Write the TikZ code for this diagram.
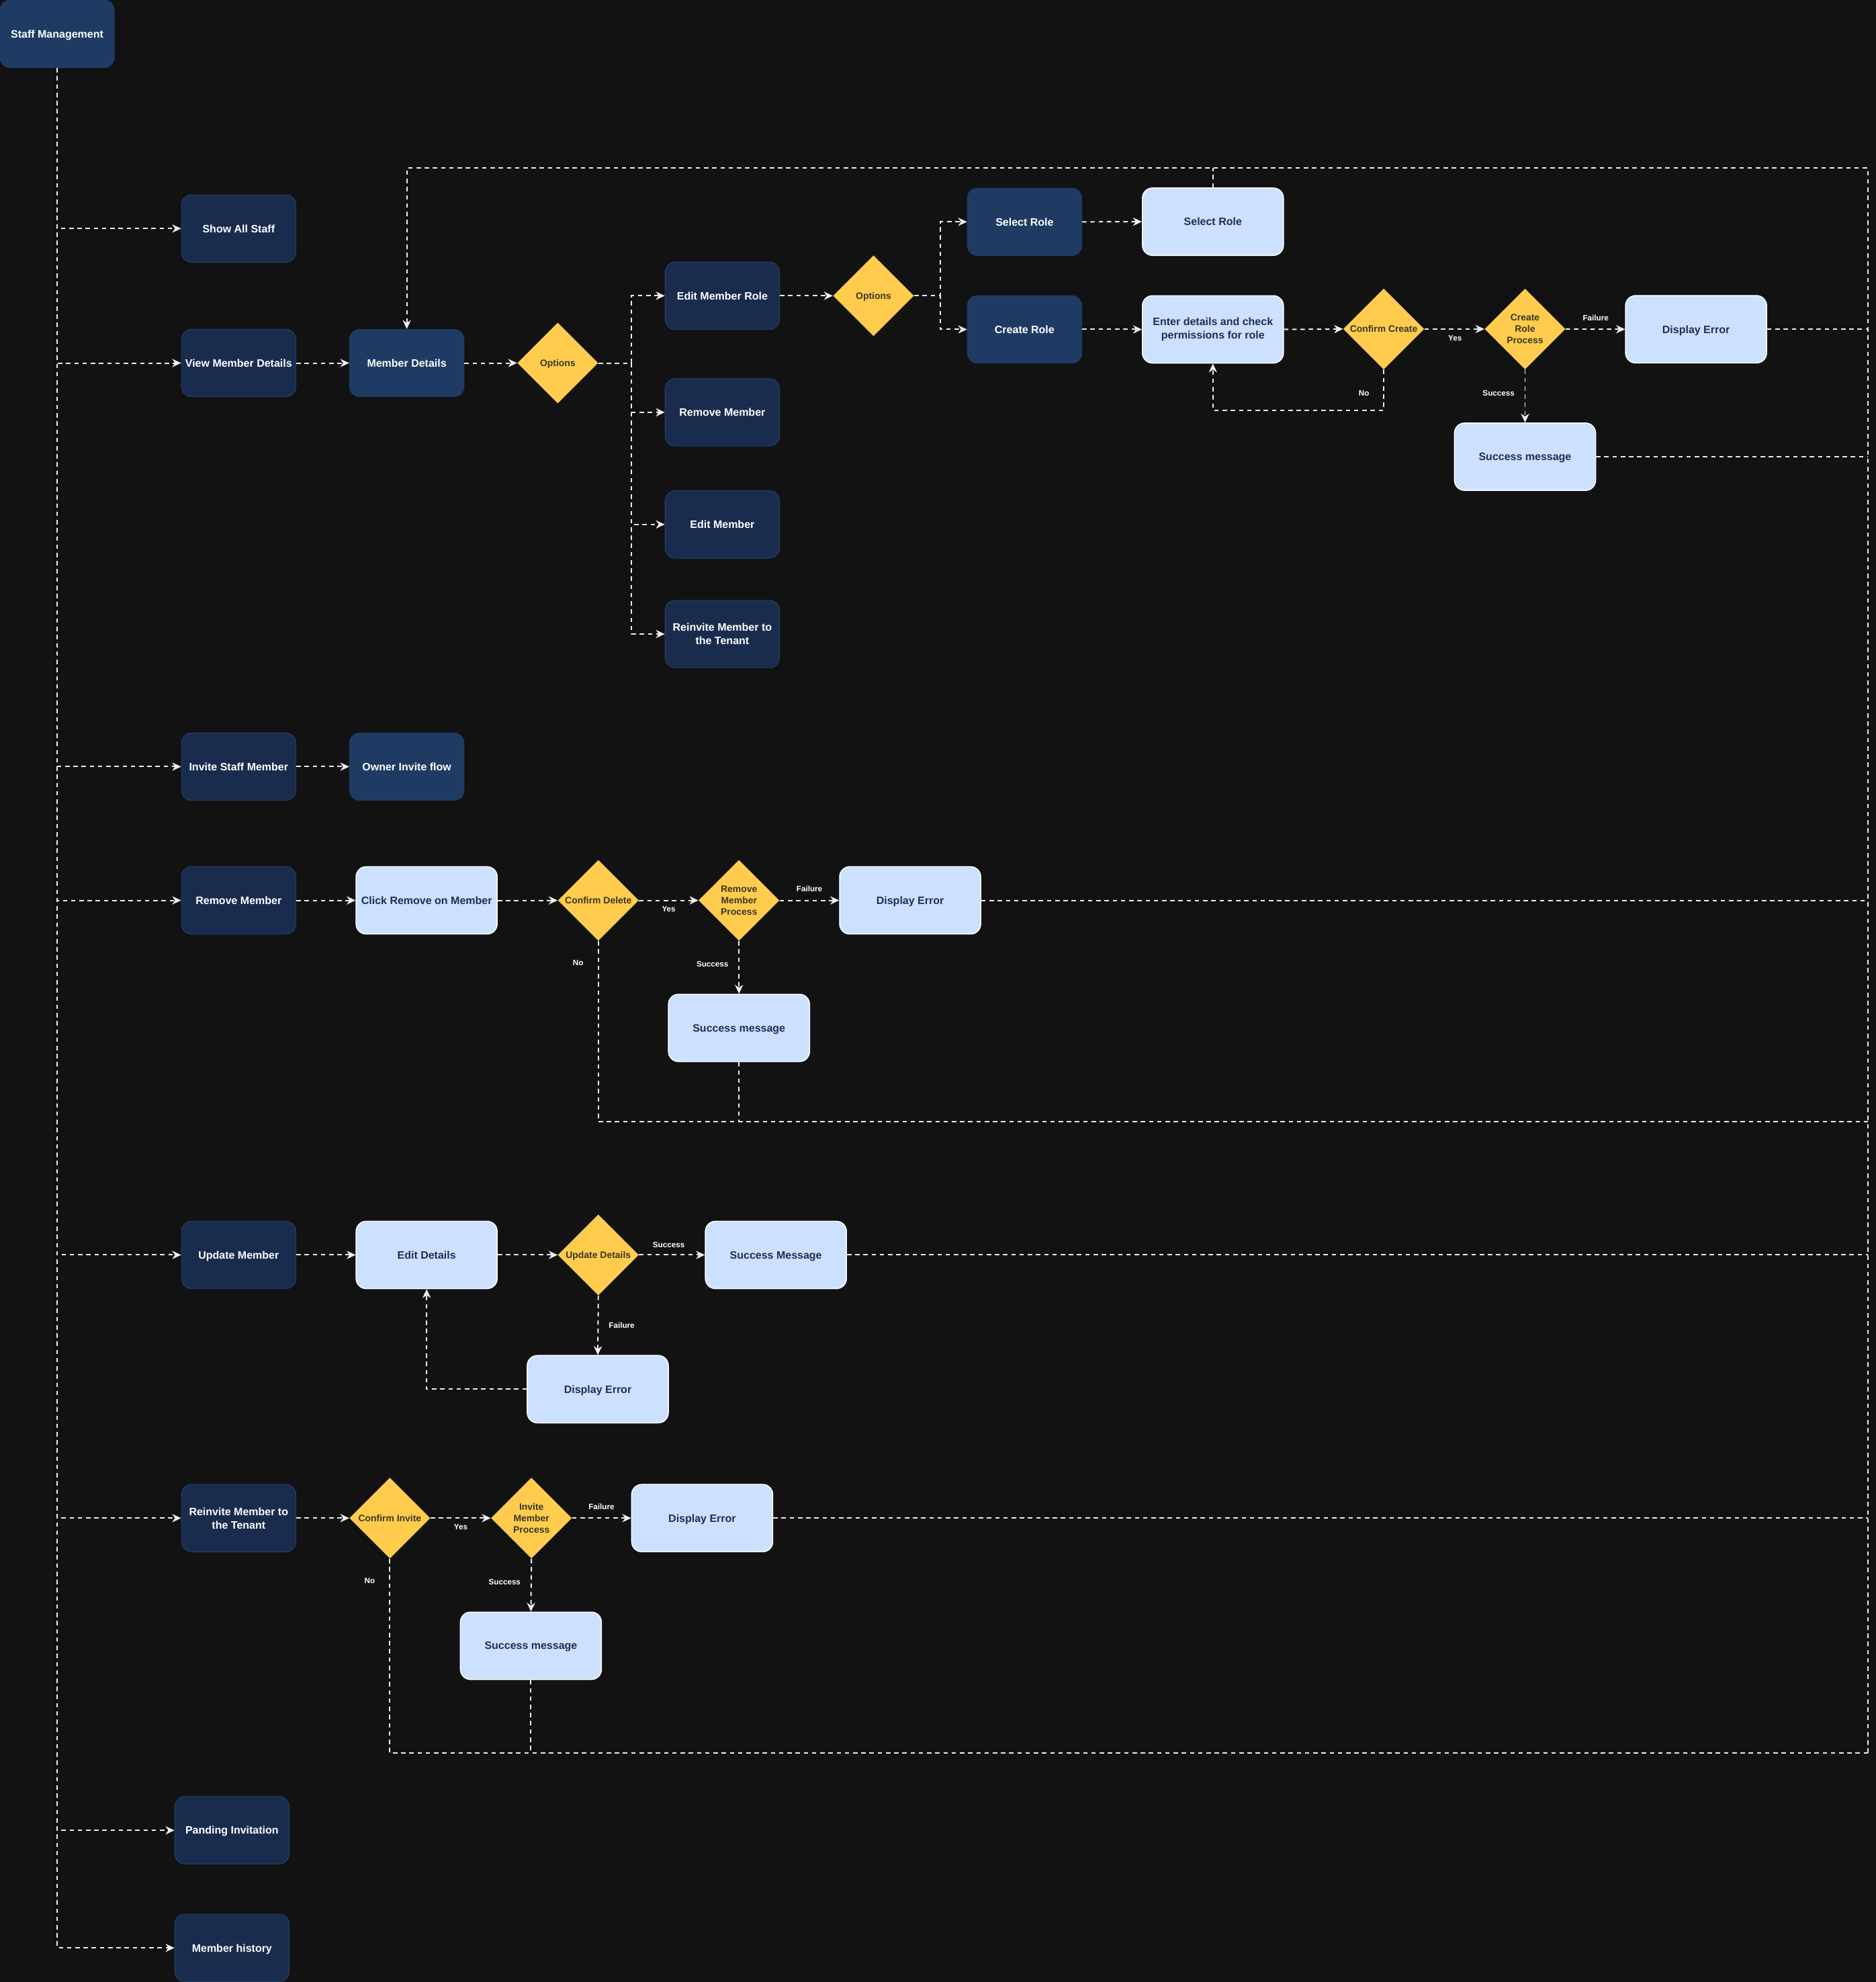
\documentclass[tikz,border=0pt]{standalone}
\usepackage{fontspec}
\setmainfont{Liberation Sans}
\usetikzlibrary{arrows.meta,shapes.geometric,calc}
\definecolor{bgc}{HTML}{121212}
\definecolor{darkfill}{HTML}{1A2C4E}
\definecolor{darkline}{HTML}{213D68}
\definecolor{midfill}{HTML}{1F3B63}
\definecolor{lightfill}{HTML}{CCE0FF}
\definecolor{lighttext}{HTML}{1E2F4F}
\definecolor{yel}{HTML}{FFCC4D}
\definecolor{dtext}{HTML}{3A3522}
\definecolor{lc}{HTML}{EDEDED}
\begin{document}
\begin{tikzpicture}[x=1pt,y=-1pt,
  boxtxt/.style={font=\fontsize{8.5}{10.6}\selectfont\bfseries, align=center, inner sep=0pt, text depth=0pt},
  multi/.style={text depth=},
  darkbox/.style={boxtxt, rectangle, rounded corners=8pt, fill=darkfill, draw=darkline, line width=0.6pt, text=white, minimum width=90.5pt, minimum height=53.3pt},
  midbox/.style={darkbox, fill=midfill, draw=midfill},
  lightbox/.style={boxtxt, rectangle, rounded corners=8pt, fill=lightfill, draw=white, line width=0.8pt, text=lighttext, minimum width=111.6pt, minimum height=53.3pt},
  dia/.style={diamond, fill=yel, draw=none, minimum width=64pt, minimum height=64pt, inner sep=0pt, aspect=1},
  dlab/.style={font=\fontsize{7.4}{9}\selectfont\bfseries, text=dtext, align=center, inner sep=0pt, text depth=0pt},
  lbl/.style={font=\fontsize{6.2}{7.5}\selectfont\bfseries, text=white, inner sep=0pt, text depth=0pt},
  flow/.style={draw=lc, line width=1.05pt, dash pattern=on 3.5pt off 3pt},
  arr/.style={flow, -{Stealth[length=7pt,width=6.5pt,inset=2.2pt]}}
]
\fill[bgc] (0,0) rectangle (1484,1568);
\useasboundingbox (0,0) rectangle (1484,1568);

% ---- left column ----
\node[midbox, minimum width=90.3pt, minimum height=53.5pt] (sm) at (45.2,26.75) {Staff Management};
\node[darkbox] (show) at (188.8,180.8) {Show All Staff};
\node[darkbox] (view) at (188.8,287.2) {View Member Details};
\node[midbox] (md) at (321.8,287.2) {Member Details};
\node[dia, label={[dlab]center:Options}] (opt1) at (441.2,287.2) {};

\node[darkbox] (emr) at (571.4,234) {Edit Member Role};
\node[darkbox] (rmopt) at (571.4,326.2) {Remove Member};
\node[darkbox] (edm) at (571.4,414.9) {Edit Member};
\node[darkbox, multi] (reopt) at (571.4,501.6) {Reinvite Member to\\the Tenant};

\node[dia, label={[dlab]center:Options}] (opt2) at (691,234) {};
\node[midbox] (sel) at (810.5,175.5) {Select Role};
\node[midbox] (cre) at (810.5,260.6) {Create Role};
\node[lightbox] (sel2) at (959.5,175.4) {Select Role};
\node[lightbox, multi] (ent) at (959.5,260.6) {Enter details and check\\permissions for role};
\node[dia, label={[dlab]center:Confirm Create}] (cc) at (1094.6,260.3) {};
\node[dia, label={[dlab,multi]center:Create\\Role\\Process}] (crp) at (1206.4,260.3) {};
\node[lightbox] (de1) at (1341.7,260.5) {Display Error};
\node[lightbox] (sm1) at (1206.4,361.3) {Success message};

% ---- invite ----
\node[darkbox] (inv) at (188.8,606.5) {Invite Staff Member};
\node[midbox] (own) at (321.8,606.5) {Owner Invite flow};

% ---- remove ----
\node[darkbox] (rm) at (188.8,712.3) {Remove Member};
\node[lightbox] (cr) at (337.5,712.3) {Click Remove on Member};
\node[dia, label={[dlab]center:Confirm Delete}] (cd) at (473.3,712.3) {};
\node[dia, label={[dlab,multi]center:Remove\\Member\\Process}] (rmp) at (584.6,712.3) {};
\node[lightbox] (de2) at (720,712.3) {Display Error};
\node[lightbox] (sm2) at (584.6,813.2) {Success message};

% ---- update ----
\node[darkbox] (upd) at (188.8,992.8) {Update Member};
\node[lightbox] (ed) at (337.5,992.8) {Edit Details};
\node[dia, label={[dlab]center:Update Details}] (ud) at (473.3,992.8) {};
\node[lightbox] (smm) at (613.8,992.8) {Success Message};
\node[lightbox] (de3) at (472.9,1099) {Display Error};

% ---- reinvite ----
\node[darkbox, multi] (re) at (188.8,1201) {Reinvite Member to\\the Tenant};
\node[dia, label={[dlab]center:Confirm Invite}] (ci) at (308.4,1201) {};
\node[dia, label={[dlab,multi]center:Invite\\Member\\Process}] (imp) at (420.4,1201) {};
\node[lightbox] (de4) at (555.5,1201) {Display Error};
\node[lightbox] (sm4) at (420,1302) {Success message};

% ---- bottom ----
\node[darkbox] (pi) at (183.5,1448) {Panding Invitation};
\node[darkbox] (mh) at (183.5,1541) {Member history};

% ---- trunk ----
\foreach \t in {show,view,inv,rm,upd,re,pi,mh}
  \draw[arr] (sm.south) |- (\t.west);

% ---- member details ----
\draw[arr] (view.east) -- (md.west);
\draw[arr] (md.east) -- (opt1.west);
\coordinate (b1) at (499.5,287.2);
\foreach \t in {emr,rmopt,edm,reopt}
  \draw[arr] (opt1.east) -- (b1) |- (\t.west);
\draw[arr] (emr.east) -- (opt2.west);
\coordinate (b2) at (743.9,234);
\foreach \t in {sel,cre}
  \draw[arr] (opt2.east) -- (b2) |- (\t.west);
\draw[arr] (sel.east) -- (sel2.west);
\draw[arr] (cre.east) -- (ent.west);
\draw[arr] (ent.east) -- (cc.west);
\draw[arr] (cc.east) -- (crp.west);
\draw[arr] (crp.east) -- (de1.west);
\draw[arr] (crp.south) -- (sm1.north);
\coordinate (nloop) at (1094.6,324.5);
\draw[arr] (cc.south) -- (nloop) -| (ent.south);

\coordinate (rtop) at (1477.6,133);
\coordinate (rbot) at (1477.6,1386.8);
\draw[arr] (rbot) -- (rtop) -| (md.north);
\draw[flow] (sel2.north) -- (sel2.north |- rtop);
\draw[flow] (de1.east) -- (de1.east -| rtop);
\draw[flow] (sm1.east) -- (sm1.east -| rtop);

\node[lbl] (l1) at (1151,267.3) {Yes};
\node[lbl] (l2) at (1079,311.2) {No};
\node[lbl] (l3) at (1185.5,311) {Success};
\node[lbl] (l4) at (1262.3,251.5) {Failure};

% ---- invite ----
\draw[arr] (inv.east) -- (own.west);

% ---- remove ----
\draw[arr] (rm.east) -- (cr.west);
\draw[arr] (cr.east) -- (cd.west);
\draw[arr] (cd.east) -- (rmp.west);
\draw[arr] (rmp.east) -- (de2.west);
\draw[arr] (rmp.south) -- (sm2.north);
\draw[flow] (de2.east) -- (de2.east -| rtop);
\coordinate (rmb) at (473.3,887.4);
\draw[flow] (cd.south) -- (rmb) -- (rmb -| rtop);
\draw[flow] (sm2.south) -- (sm2.south |- rmb);
\node[lbl] (l5) at (529,719.3) {Yes};
\node[lbl] (l6) at (640.3,703) {Failure};
\node[lbl] (l7) at (563.6,762.8) {Success};
\node[lbl] (l8) at (457.3,761.5) {No};

% ---- update ----
\draw[arr] (upd.east) -- (ed.west);
\draw[arr] (ed.east) -- (ud.west);
\draw[arr] (ud.east) -- (smm.west);
\draw[arr] (ud.south) -- (de3.north);
\draw[arr] (de3.west) -| (ed.south);
\draw[flow] (smm.east) -- (smm.east -| rtop);
\node[lbl] (l9) at (529,984.8) {Success};
\node[lbl] (l10) at (491.8,1048.7) {Failure};

% ---- reinvite ----
\draw[arr] (re.east) -- (ci.west);
\draw[arr] (ci.east) -- (imp.west);
\draw[arr] (imp.east) -- (de4.west);
\draw[arr] (imp.south) -- (sm4.north);
\draw[flow] (de4.east) -- (de4.east -| rtop);
\draw[flow] (ci.south) -- (ci.south |- rbot) -- (rbot);
\draw[flow] (sm4.south) -- (sm4.south |- rbot);
\node[lbl] (l11) at (364.5,1208.1) {Yes};
\node[lbl] (l12) at (475.8,1192) {Failure};
\node[lbl] (l13) at (399.2,1251.7) {Success};
\node[lbl] (l14) at (292.5,1250.4) {No};
\end{tikzpicture}
\end{document}
